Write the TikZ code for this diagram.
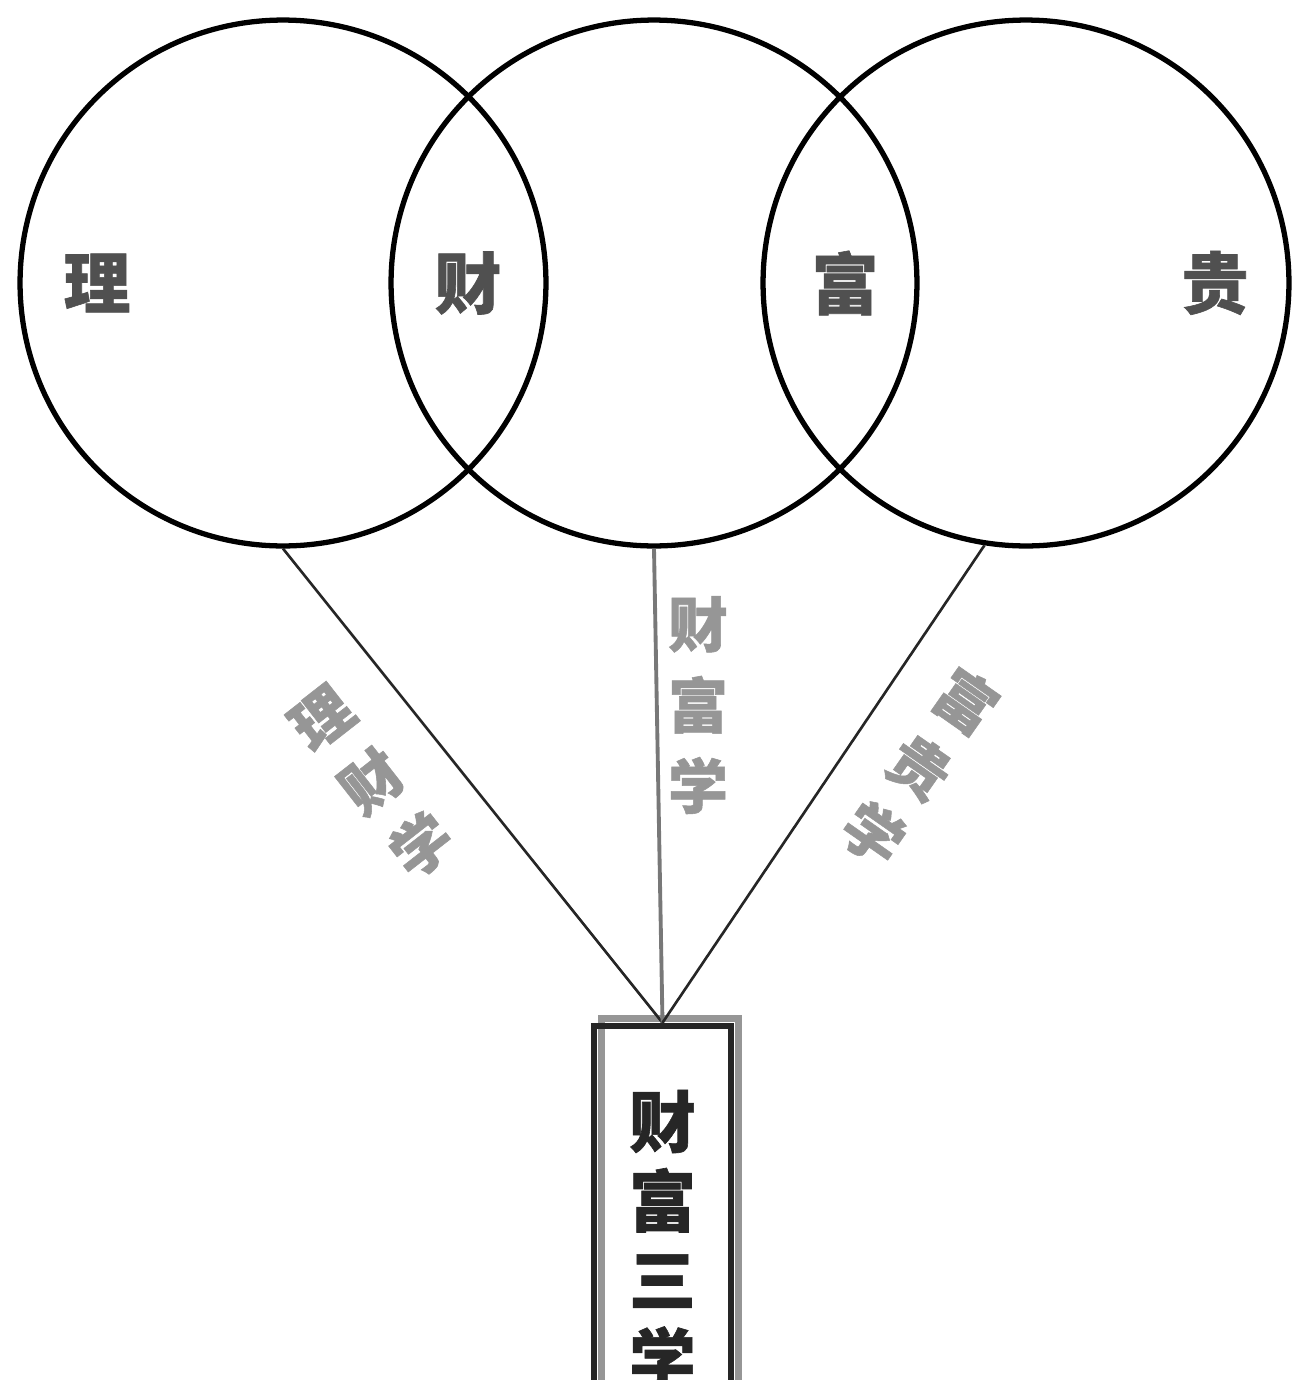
\documentclass[tikz,border=0pt]{standalone}
\usepackage{fontspec}
\newfontfamily\cjk{Noto Sans CJK SC}[FakeBold=0.9]
\definecolor{inkgray}{RGB}{80,80,80}
\definecolor{softgray}{RGB}{150,150,150}
\definecolor{stemgray}{RGB}{120,120,120}

\begin{document}
\begin{tikzpicture}[x=0.02cm, y=-0.02cm,
    ring/.style={circle, draw=black, line width=3pt, minimum size=10.52cm, inner sep=0pt},
    ringtext/.style={text=inkgray, font=\cjk\bfseries\fontsize{38}{38}\selectfont, inner sep=0pt},
    spoke/.style={draw=black!85, line width=1.5pt},
    spoketext/.style={text=softgray, font=\cjk\bfseries\fontsize{34}{46}\selectfont, align=center, inner sep=0pt},
    sanxuebox/.style={draw=black!85, line width=3.8pt, minimum width=2.74cm, minimum height=8.56cm,
        align=center, font=\cjk\bfseries\fontsize{38}{45}\selectfont, text=black!85,
        preaction={draw=softgray, line width=4pt, transform canvas={shift={(4.5pt,4.5pt)}}}}]
    % Frame to fix the page size
    \useasboundingbox (0,0) rectangle (1309,1380);
    % Three rings
    \node[ring] (lic)  at ( 283, 283) {};
    \node[ring] (caic) at ( 654, 283) {};
    \node[ring] (guic) at (1026, 283) {};
    % Ring labels
    \node[ringtext] (li)  at (  97, 283) {理};
    \node[ringtext] (cai) at ( 468, 283) {财};
    \node[ringtext] (fu)  at ( 845, 283) {富};
    \node[ringtext] (gui) at (1215, 283) {贵};
    % Box at the bottom
    \node[sanxuebox] (sanxue) at (662.5, 1240) {财\\富\\三\\学};
    % Spokes
    \draw[spoke]                                 (lic.south)  -- (sanxue.north);
    \draw[spoke, draw=stemgray, line width=2.2pt] (caic.south) -- (sanxue.north);
    \draw[spoke]                                 (guic.-99)   -- (sanxue.north);
    % Spoke labels
    \node[spoketext, rotate=38]  (licaixue) at (372, 782) {理\\财\\学};
    \node[spoketext]             (caifuxue) at (698, 705) {财\\富\\学};
    \node[spoketext, rotate=-35] (fuguixue) at (920, 767) {富\\贵\\学};
\end{tikzpicture}
\end{document}
